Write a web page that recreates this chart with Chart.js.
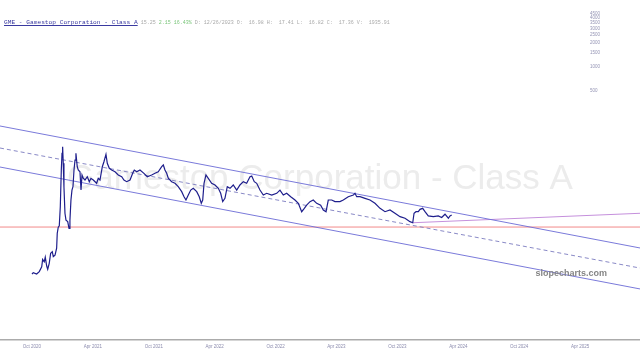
<!DOCTYPE html>
<html><head><meta charset="utf-8">
<script src="https://cdn.jsdelivr.net/npm/chart.js@4.4.1/dist/chart.umd.min.js"></script>
<style>
html,body{margin:0;padding:0;background:#fff;}
#wrap{position:relative;width:640px;height:356px;}
#c{position:absolute;left:0;top:0;}
#title{position:absolute;left:4px;top:12px;white-space:pre;line-height:1;font-family:"Liberation Mono",monospace;}
#title .nm{font-size:6.2px;color:#3a3aa0;text-decoration:underline;}
#title .st{font-size:5px;color:#a8a8a8;}
#title .gr{font-size:5px;color:#78c478;}
</style></head><body>
<div id="wrap"><canvas id="c" width="640" height="356"></canvas>
<div id="title"><span class="nm">GME - Gamestop Corporation - Class A</span><span class="st"> 15.25 </span><span class="gr">2.15 16.43% </span><span class="st">D: 12/26/2023 O:  16.98 H:  17.41 L:  16.82 C:  17.36 V:  1935.91</span></div>
</div>
<script>
// ---- data ----
const watermarkText = 'Gamestop Corporation - Class A';
const siteText = 'slopecharts.com';
// x values: months since Oct 2020
const xTickMonths = [0, 6, 12, 18, 24, 30, 36, 42, 48, 54];
const xTickLabels = ['Oct 2020','Apr 2021','Oct 2021','Apr 2022','Oct 2022','Apr 2023','Oct 2023','Apr 2024','Oct 2024','Apr 2025'];
const yTickValues = [500, 1000, 1500, 2000, 2500, 3000, 3500, 4000, 4500];
const yTickLabels = ['500','1000','1500','2000','2500','3000','3500','4000','4500'];
const X_MIN = -3.15, X_MAX = 59.9;
const Y_MIN = 0.407, Y_MAX = 6732;

const priceMonths = [0.0,0.13,0.46,0.72,0.96,1.05,1.21,1.31,1.45,1.55,1.70,1.84,2.00,2.10,2.27,2.43,2.49,2.59,2.69,2.79,2.89,2.96,3.02,3.08,3.15,3.25,3.35,3.52,3.65,3.74,3.84,3.94,4.04,4.14,4.24,4.33,4.46,4.56,4.73,4.83,4.93,5.05,5.22,5.45,5.65,5.81,6.04,6.37,6.53,6.70,6.93,7.09,7.29,7.42,7.62,7.85,8.18,8.50,8.84,9.06,9.33,9.66,9.92,10.08,10.32,10.64,11.03,11.36,11.79,12.12,12.44,12.78,12.94,13.10,13.27,13.43,13.76,14.09,14.41,14.75,14.98,15.17,15.40,15.64,15.89,16.23,16.48,16.68,16.82,16.95,17.14,17.37,17.70,18.03,18.36,18.59,18.79,19.01,19.24,19.51,19.83,20.17,20.49,20.82,21.15,21.48,21.65,21.90,22.14,22.46,22.79,23.12,23.62,24.11,24.43,24.76,25.09,25.49,25.91,26.24,26.57,26.83,27.06,27.39,27.71,28.05,28.44,28.70,28.97,29.19,29.53,29.85,30.34,30.67,31.16,31.66,31.82,31.99,32.32,32.81,33.30,33.79,34.29,34.78,35.27,35.76,36.26,36.75,37.24,37.51,37.64,37.83,38.06,38.23,38.49,38.72,39.04,39.54,40.03,40.36,40.69,41.02,41.18,41.35];
const priceValues = [2.68,2.79,2.68,2.87,3.3,4.08,3.81,4.33,3.37,3.07,3.64,4.85,5.07,4.4,4.6,5.6,8.6,10.2,10.6,18.3,52.3,84.3,101.9,63.3,32.5,15.2,12.5,11.96,9.9,12.5,22.2,29.5,32.5,52.3,69.6,84.3,57.5,52.3,49.8,29.5,45.4,41.3,39.3,43.2,37.5,41.3,39.3,35.8,41.3,39.3,57.5,66.3,81.9,63.3,54.9,52.3,49.8,45.4,43.2,39.3,37.5,39.3,47.6,52.3,49.8,52.3,47.6,43.2,45.4,47.6,49.8,57.5,60.4,52.3,47.6,41.3,37.5,35.8,32.5,28.2,24.4,22.2,25.6,29.5,31.0,28.2,24.4,20.2,22.2,35.8,45.4,41.3,35.8,34.1,31.0,26.9,21.2,23.3,32.5,31.0,34.1,29.5,34.1,37.5,35.8,43.2,44.0,37.5,35.8,29.5,25.6,26.9,25.6,26.9,29.5,25.6,26.9,24.4,22.2,20.2,15.9,17.5,19.2,21.2,22.2,20.2,19.2,16.7,15.9,22.2,22.2,21.2,21.2,22.2,24.4,25.6,26.9,24.4,24.4,23.3,22.2,20.2,17.5,15.9,16.7,15.2,13.8,13.2,11.96,11.6,15.2,15.9,15.9,17.0,17.5,15.9,14.1,13.8,14.1,13.5,14.8,13.2,14.1,14.5];

const channelMonths = [-3.15, 59.9];
const upperChannel = [184, 5.64];
const midChannel = [98.1, 3.18];
const lowerChannel = [57.0, 1.75];
const supportLevel = 10.26;
const trendMonths = [37.5, 59.9];
const trendValues = [11.6, 15.2];

const pts = (xs, ys) => xs.map((x, i) => ({x: x, y: ys[i]}));

const decor = {
  id: 'decor',
  beforeDatasetsDraw(chart) {
    const ctx = chart.ctx; ctx.save();
    ctx.font = '35px "Liberation Sans", Arial, sans-serif';
    ctx.fillStyle = '#ececec'; ctx.textAlign = 'center'; ctx.textBaseline = 'alphabetic';
    ctx.fillText(watermarkText, 320, 189);
    ctx.restore();
  },
  afterDatasetsDraw(chart) {
    const ctx = chart.ctx; ctx.save();
    ctx.font = 'bold 9px "Liberation Sans", Arial, sans-serif';
    ctx.fillStyle = '#858585'; ctx.textAlign = 'right'; ctx.textBaseline = 'alphabetic';
    ctx.fillText(siteText, 607, 276);
    // right-side price scale labels, positioned by the y scale
    const ys = chart.scales.y;
    ctx.font = '4.5px "Liberation Sans", Arial, sans-serif';
    ctx.fillStyle = '#9494b4'; ctx.textAlign = 'left'; ctx.textBaseline = 'middle';
    yTickValues.forEach((v, i) => ctx.fillText(yTickLabels[i], 590, ys.getPixelForValue(v)));
    ctx.restore();
  }
};

new Chart(document.getElementById('c'), {
  type: 'line',
  data: { datasets: [
    {data: pts(priceMonths, priceValues), borderColor: '#1e1e8c', borderWidth: 1.2, pointRadius: 0, tension: 0},
    {data: pts(channelMonths, upperChannel), borderColor: '#6b6bd6', borderWidth: 0.9, pointRadius: 0},
    {data: pts(channelMonths, midChannel), borderColor: '#7c7cc0', borderWidth: 0.9, borderDash: [4, 3], pointRadius: 0},
    {data: pts(channelMonths, lowerChannel), borderColor: '#6b6bd6', borderWidth: 0.9, pointRadius: 0},
    {data: pts(channelMonths, [supportLevel, supportLevel]), borderColor: '#f28a8a', borderWidth: 1, pointRadius: 0},
    {data: pts(trendMonths, trendValues), borderColor: '#c590dc', borderWidth: 1, pointRadius: 0}
  ]},
  options: {
    responsive: false, animation: false, devicePixelRatio: 1,
    layout: {padding: 0},
    plugins: {legend: {display: false}, tooltip: {enabled: false}, title: {display: false}},
    scales: {
      x: {type: 'linear', min: X_MIN, max: X_MAX,
        afterBuildTicks: s => { s.ticks = xTickMonths.map(v => ({value: v})); },
        ticks: {callback: (v, i) => xTickLabels[i], autoSkip: false, maxRotation: 0, font: {size: 4.5, family: '"Liberation Sans", Arial'}, color: '#8c8cae', padding: 4},
        grid: {display: false, drawTicks: false},
        border: {display: true, color: '#ababab', width: 1.5},
        afterFit: s => { s.height = 16; }
      },
      y: {type: 'logarithmic', position: 'right', min: Y_MIN, max: Y_MAX, display: false}
    }
  },
  plugins: [decor]
});
</script>
</body></html>
